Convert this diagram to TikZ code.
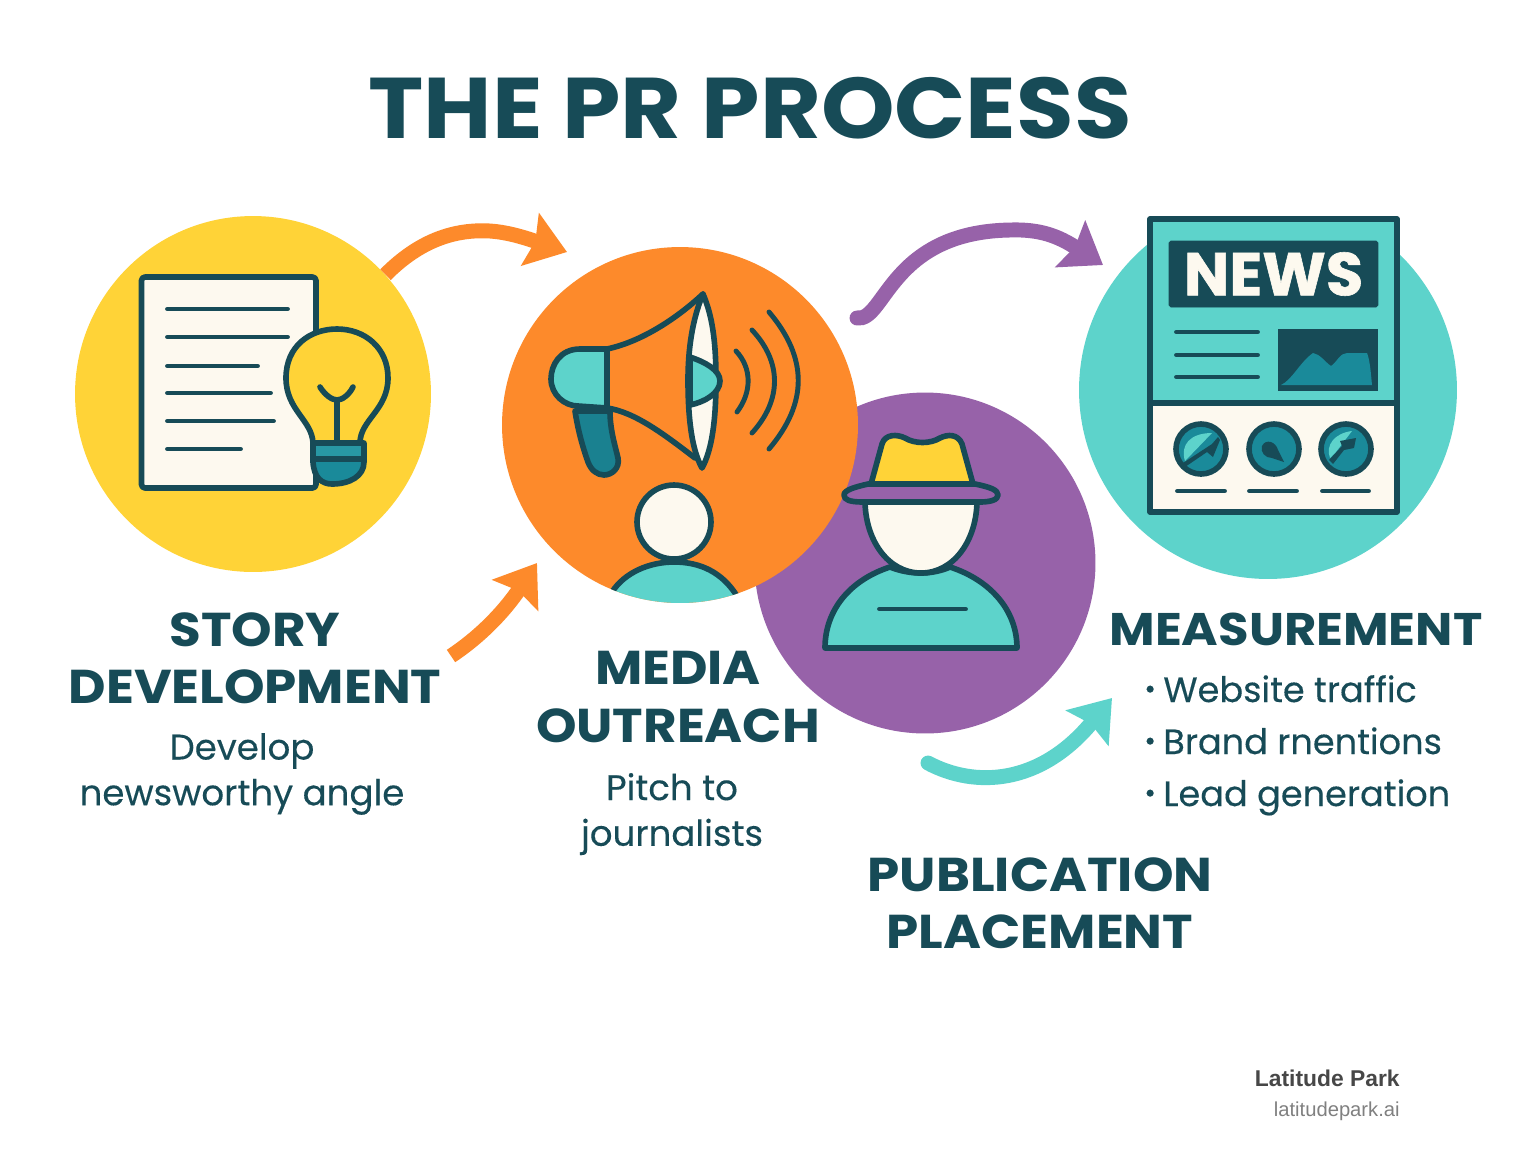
\documentclass[tikz,border=0pt]{standalone}
\usepackage{fontspec}
\setmainfont[FakeBold=0.25]{Poppins}
\newfontfamily\headfont[FakeStretch=1.087]{Poppins}
\newfontfamily\newsfont[FakeBold=1]{Poppins}
\newfontfamily\footfont{Liberation Sans}
\usetikzlibrary{arrows.meta}
\definecolor{inkc}{HTML}{174B57}
\definecolor{yelc}{HTML}{FFD337}
\definecolor{orac}{HTML}{FD8A2B}
\definecolor{purc}{HTML}{9762A9}
\definecolor{teac}{HTML}{5DD3CB}
\definecolor{crec}{HTML}{FDF9EF}
\definecolor{midc}{HTML}{1A8A9A}
\newcommand\dotmark{\makebox[10.8pt][l]{\raisebox{.1em}{\fontsize{16}{16}\selectfont•}}}
\begin{document}
\begin{tikzpicture}[x=0.02cm,y=-0.02cm,
  disc/.style={circle,inner sep=0pt,minimum size=#1},
  ink/.style={draw=inkc,line width=3.2pt,line join=round,line cap=round},
  rule/.style={draw=inkc,line width=2.8pt,line cap=round},
  flow/.style={line width=8.5pt,-{Stealth[length=22pt,width=31pt,inset=3pt]}},
  title/.style={text=inkc,font=\headfont\fontsize{49}{50}\selectfont\bfseries},
  head/.style={text=inkc,align=center,font=\headfont\fontsize{27}{32.5}\selectfont\bfseries},
  desc/.style={text=inkc,align=center,font=\fontsize{20.25}{26}\selectfont},
  item/.style={text=inkc,anchor=base west,inner sep=0pt,font=\fontsize{20}{24}\selectfont}]
\useasboundingbox[fill=white](0,0)rectangle(1536,1154);
\node[disc=6.82cm,fill=purc](placement)at(925,563){};
\coordinate(teahead)at(1112,698);
\draw[flow,draw=teac,line cap=round](928,763)..controls(975,788)and(1040,785)..(teahead);
\coordinate(purhead)at(1103,265);
\draw[flow,draw=purc,line cap=round](857,318)..controls(885,322)and(890,232)..(1010,230)..controls(1040,229)and(1058,236)..(purhead);
\coordinate(orahead)at(567,252);
\coordinate(lowtail)at(451,656);
\coordinate(lowhead)at(537,563);
\node[disc=7.12cm,fill=yelc](story)at(253,394){};
\draw[flow,draw=orac](story.42)..controls(420,240)and(455,229)..(490,231)..controls(505,232)and(520,236)..(orahead);
\draw[flow,draw=orac](lowtail)..controls(490,630)and(512,600)..(lowhead);
\node[disc=7.12cm,fill=orac](media)at(680,425){};
\begin{scope}
\clip(1000,217)rectangle(1500,600);
\node[disc=7.56cm,fill=teac](measure)at(1268,390){};
\end{scope}
\draw[ink,fill=crec,rounded corners=2pt](141.5,277)--(316,277)--(316,488)--(141.5,488)--cycle;
\draw[rule](167.5,309)--(287.5,309);
\draw[rule](167.5,337)--(287.5,337);
\draw[rule](167.5,366)--(257.5,366);
\draw[rule](167.5,393)--(270.5,393);
\draw[rule](167.5,421)--(273.5,421);
\draw[rule](167.5,449)--(240.5,449);
\draw[ink,fill=yelc](313,443)..controls(312,420)and(286,410)..(286,378)..controls(286,346)and(310,329)..(337,329)..controls(365,329)and(388,348)..(388,378)..controls(388,410)and(360,420)..(360,443)--cycle;
\draw[ink](320,387)..controls(325,395)and(332,400)..(337,400)..controls(342,400)and(349,395)..(353,387);
\draw[ink](337,400)--(337,443);
\draw[ink,fill=midc](313,443)--(364,443)--(364,462)..controls(364,476)and(350,484)..(332,484)..controls(322,484)and(314,478)..(313,462)--cycle;
\draw[ink](313,459)--(364,459);
\fill[midc!80!teac](316,446)--(361,446)--(361,456)--(316,456)--cycle;
\draw[ink,fill=midc!85!inkc](575,411)--(610,411)..controls(610,430)and(615,445)..(618,458)..controls(620,468)and(612,475)..(604,475)..controls(597,475)and(591,470)..(588,462)..controls(582,445)and(578,430)..(575,411)--cycle;
\draw[ink](607,349)..controls(640,342)and(675,320)..(703,294);
\draw[ink](607,408)..controls(635,412)and(665,435)..(695,458);
\draw[ink,fill=teac](607,349)--(580,349)..controls(560,349)and(551,365)..(551,379)..controls(551,395)and(565,406)..(578,406)--(607,408)--cycle;
\draw[ink,fill=crec](703,294)..controls(692,320)and(688,350)..(688,380)..controls(688,420)and(692,450)..(702,468)..controls(712,450)and(716,420)..(716,380)..controls(716,340)and(712,315)..(703,294)--cycle;
\draw[ink,fill=teac](690,357)..controls(705,362)and(720,370)..(720,381)..controls(720,393)and(705,402)..(690,405)--cycle;
\draw[rule](736,351)..controls(752,368)and(752,392)..(737,412);
\draw[rule](752,330)..controls(782,362)and(782,400)..(752,433);
\draw[rule](769,312)..controls(808,358)and(808,403)..(769,449);
\begin{scope}
\clip(media.center)circle[radius=3.56cm];
\draw[ink,line cap=butt,fill=teac](600,620)--(612,592)..controls(625,572)and(650,562)..(674,562)..controls(700,562)and(722,572)..(737,596)--(745,620)--cycle;
\end{scope}
\draw[ink,fill=crec](674,522)circle[radius=0.74cm];
\draw[ink,fill=teac](825,648)..controls(825,610)and(850,580)..(890,567)..controls(910,575)and(932,575)..(950,567)..controls(990,580)and(1017,610)..(1017,648)--cycle;
\draw[rule](879.5,609)--(965.5,609);
\draw[ink,fill=crec](865,500)..controls(865,540)and(888,573)..(921,573)..controls(954,573)and(977,540)..(977,500)--cycle;
\draw[ink,fill=yelc](871,484)--(882,444)..controls(885,434)and(897,434)..(905,438)..controls(915,444)and(930,444)..(940,438)..controls(948,434)and(958,434)..(962,444)--(973,484)--cycle;
\draw[ink,fill=purc](868,484)--(975,484)..controls(990,487)and(998,490)..(998,495)..controls(998,500)and(990,502)..(980,502)--(863,502)..controls(850,502)and(844,500)..(844,495)..controls(844,490)and(855,487)..(868,484)--cycle;
\draw[ink,fill=teac,line cap=butt](1150,219)--(1397,219)--(1397,403)--(1150,403)--cycle;
\draw[ink,fill=crec,line cap=butt](1150,403)--(1397,403)--(1397,512)--(1150,512)--cycle;
\node[fill=inkc,draw=inkc,rounded corners=1pt,inner sep=0pt,minimum width=4.18cm,minimum height=1.32cm,text=crec,font=\newsfont\fontsize{34.5}{34.5}\selectfont\bfseries](newsbox)at(1273.5,274){NEWS};
\draw[rule](1176.5,332)--(1257.5,332);
\draw[rule](1176.5,355)--(1257.5,355);
\draw[rule](1176.5,377)--(1257.5,377);
\node[fill=inkc,inner sep=0pt,minimum width=2cm,minimum height=1.24cm](chart)at(1328,360){};
\fill[midc](1281,385)..controls(1292,380)and(1300,362)..(1313,353)..controls(1320,354)and(1325,362)..(1331,366)..controls(1337,362)and(1340,353)..(1347,353)--(1367,353)..controls(1370,360)and(1371,375)..(1372,385)--cycle;
\foreach \gx in {1201,1274,1346}{
\draw[ink,fill=midc](\gx,449)circle[radius=0.5cm];}
\fill[teac](1185,461)..controls(1180,445)and(1190,433)..(1212,433)--cycle;
\fill[inkc](1183,463)--(1212,444)--(1218,437)--(1220,440)--(1213,457)--(1207,452)--(1185,467)--cycle;
\fill[inkc](1262,446)..controls(1266,438)and(1276,442)..(1278,450)--(1284,462)--(1272,458)..controls(1265,458)and(1260,452)..(1262,446)--cycle;
\fill[teac](1330,458)..controls(1325,445)and(1335,433)..(1352,431)--(1336,452)--cycle;
\fill[inkc](1329,460)--(1342,446)--(1340,441)--(1356,438)--(1354,448)--(1344,450)--(1333,464)--cycle;
\draw[rule](1177.5,491)--(1224.5,491);
\draw[rule](1249.5,491)--(1296.5,491);
\draw[rule](1322.5,491)--(1368.5,491);
\node[title](titlenode)at(750,108){THE PR PROCESS};
\node[head](storyhead)at(255,658){STORY\\DEVELOPMENT};
\node[desc](storytext)at(242,774){Develop\\newsworthy angle};
\node[head](mediahead)at(678,697){MEDIA\\OUTREACH};
\node[desc](mediatext)at(672,814){Pitch to\\journalists};
\node[head](pubhead)at(1040,903){PUBLICATION\\PLACEMENT};
\node[head,font=\headfont\fontsize{26}{32.5}\selectfont\bfseries](measurehead)at(1296,629){MEASUREMENT};
\node[item](webitem)at(1144,702){\dotmark Website traffic};
\node[item](branditem)at(1144,754){\dotmark Brand rnentions};
\node[item](leaditem)at(1144,806){\dotmark Lead generation};
\node[anchor=east,inner sep=0pt,text=black!72,font=\footfont\fontsize{13}{14}\selectfont\bfseries](footname)at(1400,1078){Latitude Park};
\node[anchor=east,inner sep=0pt,text=black!50,font=\footfont\fontsize{11.5}{14}\selectfont](footsite)at(1400,1111){latitudepark.ai};
\end{tikzpicture}
\end{document}
